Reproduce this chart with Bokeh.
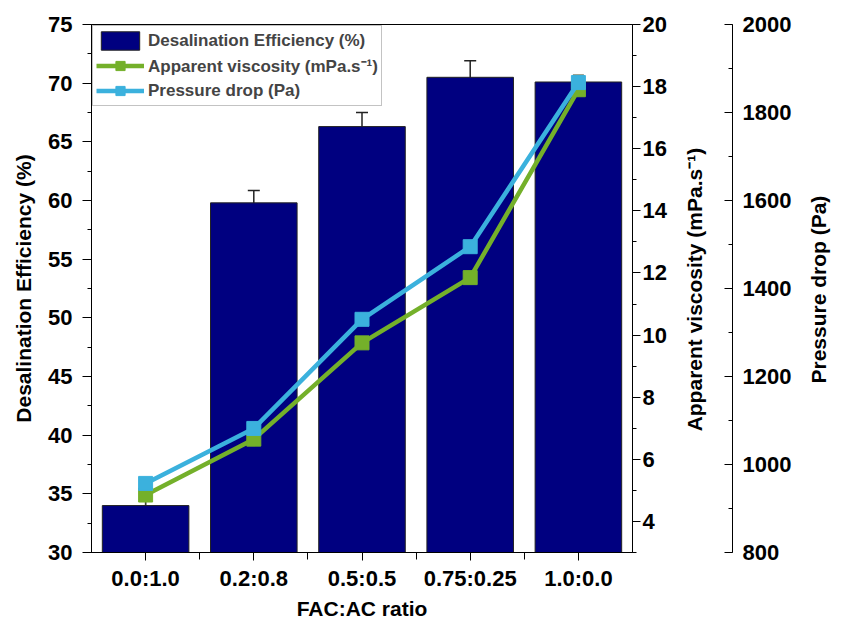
import math
from bokeh.plotting import figure
from bokeh.models import (Range1d, LinearAxis, FixedTicker, SingleIntervalTicker,
                          ColumnDataSource, Whisker, TeeHead, Legend, LegendItem)
from bokeh.embed import file_html
from bokeh.resources import INLINE

categories = ["0.0:1.0", "0.2:0.8", "0.5:0.5", "0.75:0.25", "1.0:0.0"]
efficiency = [34.0, 59.8, 66.3, 70.5, 70.1]
efficiency_err = [0.5, 1.05, 1.2, 1.4, 0.5]
viscosity = [4.85, 6.65, 9.75, 11.85, 17.9]
viscosity_err = [0.45, 0.5, 0.2, 0.4, 0.47]
pressure = [957, 1082, 1330, 1495, 1868]

FONT = "Liberation Sans"
NAVY = "#000080"
GREEN = "#74b02a"
BLUE = "#3bb1dd"
FW, FH = 541, 528

xs = [i + 1 for i in range(len(categories))]

src = ColumnDataSource(dict(
    x=xs, eff=efficiency,
    eff_lo=[v - e for v, e in zip(efficiency, efficiency_err)],
    eff_hi=[v + e for v, e in zip(efficiency, efficiency_err)],
    visc=viscosity,
    visc_lo=[v - e for v, e in zip(viscosity, viscosity_err)],
    visc_hi=[v + e for v, e in zip(viscosity, viscosity_err)],
    pres=pressure,
))

VMIN, VMAX = 3, 20
PMIN, PMAX = 800, 2000

p = figure(frame_width=FW, frame_height=FH, output_backend="svg",
           toolbar_location=None, x_range=Range1d(0.5, len(categories) + 0.5),
           y_range=Range1d(30, 75), min_border_left=91, min_border_top=24,
           min_border_bottom=78, min_border_right=0)
p.extra_y_ranges = {"visc": Range1d(VMIN, VMAX), "pres": Range1d(PMIN, PMAX)}
p.xgrid.visible = False
p.ygrid.visible = False
p.outline_line_color = "black"
p.outline_line_width = 1
p.background_fill_color = "white"

# bars
bars = p.vbar(x="x", top="eff", bottom=30, width=0.8, source=src,
              fill_color=NAVY, line_color="#222222", line_width=1)
p.add_layout(Whisker(base="x", lower="eff_lo", upper="eff_hi", source=src,
                     line_color="#222222", line_width=1.5,
                     lower_head=TeeHead(size=12, line_color="#222222", line_width=1.5),
                     upper_head=TeeHead(size=12, line_color="#222222", line_width=1.5)))

# viscosity
gl = p.line("x", "visc", source=src, y_range_name="visc", line_color=GREEN, line_width=4.5)
p.add_layout(Whisker(base="x", lower="visc_lo", upper="visc_hi", source=src,
                     y_range_name="visc", line_color="#3a4a2a", line_width=1.2,
                     lower_head=TeeHead(size=11, line_color="#3a4a2a", line_width=1.2),
                     upper_head=TeeHead(size=11, line_color="#3a4a2a", line_width=1.2)))
gs = p.scatter("x", "visc", source=src, y_range_name="visc", marker="square",
               size=14, fill_color=GREEN, line_color=GREEN)

# pressure
bl = p.line("x", "pres", source=src, y_range_name="pres", line_color=BLUE, line_width=4.5)
bs = p.scatter("x", "pres", source=src, y_range_name="pres", marker="square",
               size=14, fill_color=BLUE, line_color=BLUE)

def style(ax):
    ax.axis_line_color = "black"
    ax.major_tick_line_color = "black"
    ax.minor_tick_line_color = "black"
    ax.major_label_text_font = FONT
    ax.major_label_text_font_style = "bold"
    ax.major_label_text_font_size = "22px"
    ax.major_label_text_color = "black"
    ax.axis_label_text_font = FONT
    ax.axis_label_text_font_style = "bold"
    ax.axis_label_text_font_size = "21px"
    ax.axis_label_text_color = "black"

def title_axis(range_name, text, anchor, standoff):
    """Axis whose single rotated tick label acts as a bottom-to-top title."""
    ax = LinearAxis(y_range_name=range_name, ticker=FixedTicker(ticks=[anchor]),
                    major_label_overrides={anchor: text},
                    major_label_orientation=math.pi / 2,
                    major_tick_out=0, major_tick_in=0,
                    minor_tick_out=0, minor_tick_in=0,
                    major_label_standoff=standoff)
    ax.axis_line_color = None
    ax.major_tick_line_color = None
    ax.minor_tick_line_color = None
    ax.major_label_text_font = FONT
    ax.major_label_text_font_style = "bold"
    ax.major_label_text_font_size = "21px"
    ax.major_label_text_color = "black"
    return ax

# x axis
xa = p.xaxis[0]
style(xa)
xa.ticker = FixedTicker(ticks=xs, minor_ticks=[x + 0.5 for x in xs[:-1]])
xa.major_label_overrides = {x: c for x, c in zip(xs, categories)}
xa.major_tick_out = 8
xa.major_tick_in = 0
xa.minor_tick_out = 7
xa.minor_tick_in = 0
xa.major_label_standoff = 5
xa.axis_label = "FAC:AC ratio"
xa.axis_label_standoff = 3

# left axis
ya = p.yaxis[0]
style(ya)
ya.ticker = SingleIntervalTicker(interval=5, num_minor_ticks=2)
ya.major_tick_out = 9
ya.major_tick_in = 0
ya.minor_tick_out = 4
ya.minor_tick_in = 0
ya.major_label_standoff = 10
ya.axis_label = "Desalination Efficiency (%)"
ya.axis_label_standoff = 10

# viscosity axis
va = LinearAxis(y_range_name="visc")
style(va)
va.ticker = SingleIntervalTicker(interval=2, num_minor_ticks=2)
va.major_tick_out = 8
va.major_tick_in = 0
va.minor_tick_out = 4
va.minor_tick_in = 0
va.major_label_standoff = 2
p.add_layout(va, "right")

p.add_layout(title_axis("visc", "Apparent viscosity (mPa.s\u207b\u00b9)", 6.9, 25), "right")

# spacer (invisible label only reserves room)
sp = LinearAxis(y_range_name="visc", ticker=FixedTicker(ticks=[]),
                axis_line_color=None, major_tick_line_color=None,
                minor_tick_line_color=None, major_tick_out=0, major_tick_in=0,
                minor_tick_out=0, major_label_text_font_size="0px",
                axis_label="\u00a0", axis_label_text_alpha=0,
                axis_label_text_font_size="8px", axis_label_standoff=0)
p.add_layout(sp, "right")

# pressure axis
pa = LinearAxis(y_range_name="pres")
style(pa)
pa.ticker = SingleIntervalTicker(interval=200, num_minor_ticks=2)
pa.major_tick_out = 0
pa.major_tick_in = 8
pa.minor_tick_out = 0
pa.minor_tick_in = 4
pa.major_label_standoff = 10
p.add_layout(pa, "right")

p.add_layout(title_axis("pres", "Pressure drop (Pa)", 1184, 24), "right")

legend = Legend(items=[
    LegendItem(label="Desalination Efficiency (%)", renderers=[bars]),
    LegendItem(label="Apparent viscosity (mPa.s\u207b\u00b9)", renderers=[gl, gs]),
    LegendItem(label="Pressure drop (Pa)", renderers=[bl, bs]),
], location="top_left")
legend.margin = 1
legend.padding = 3
legend.spacing = 2
legend.glyph_width = 48
legend.glyph_height = 23
legend.label_standoff = 4
legend.label_text_font = FONT
legend.label_text_font_style = "bold"
legend.label_text_font_size = "17px"
legend.border_line_color = "#888888"
legend.border_line_width = 1
legend.background_fill_alpha = 1
p.add_layout(legend)

open("out.html", "w").write(file_html(p, INLINE))
